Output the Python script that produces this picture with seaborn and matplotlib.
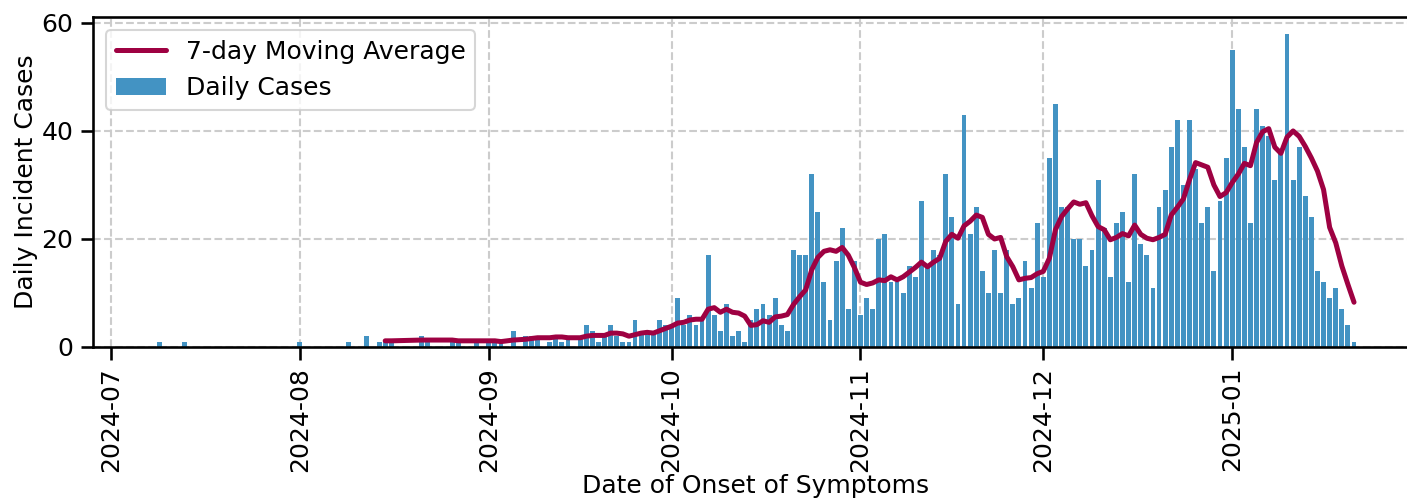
import seaborn as sns
import matplotlib.pyplot as plt
import matplotlib.dates as mdates
import pandas as pd

# Dates that have at least one case, and the count on each of them
early_dates = ["2024-07-09", "2024-07-13", "2024-08-01", "2024-08-09", "2024-08-12",
               "2024-08-14", "2024-08-15", "2024-08-16", "2024-08-21", "2024-08-22",
               "2024-08-26", "2024-08-27", "2024-08-30", "2024-09-01", "2024-09-02",
               "2024-09-03", "2024-09-05", "2024-09-07", "2024-09-08", "2024-09-09",
               "2024-09-11", "2024-09-12", "2024-09-13", "2024-09-14", "2024-09-16",
               "2024-09-17", "2024-09-18", "2024-09-19", "2024-09-20", "2024-09-21",
               "2024-09-22", "2024-09-23", "2024-09-24"]
early_cases = [1, 1, 1, 1, 2, 1, 1, 1, 2, 1, 1, 1, 1, 1, 1, 1, 3, 2, 2, 2,
               1, 2, 1, 2, 2, 4, 3, 1, 2, 4, 2, 1, 1]

# From 2024-09-25 onwards there is a bar every day
daily_start = "2024-09-25"
daily_cases = [5, 3, 3, 3, 5, 4,                                   # Sep 25-30
               4, 9, 4, 6, 4, 5, 17, 6, 3, 8, 2, 3, 1, 5, 7, 8,   # Oct 1-16
               6, 9, 4, 3, 18, 17, 17, 32, 25, 12, 5, 16, 22, 7, 16,  # Oct 17-31
               6, 9, 7, 20, 21, 12, 12, 10, 15, 13, 27, 15, 18, 17, 32,  # Nov 1-15
               24, 8, 43, 21, 26, 14, 10, 18, 10, 18, 8, 9, 16, 11, 23,  # Nov 16-30
               13, 35, 45, 26, 26, 20, 20, 15, 18, 31, 22, 13, 23, 25, 12, 32,  # Dec 1-16
               19, 17, 11, 26, 29, 37, 42, 30, 42, 33, 23, 26, 14, 27, 35,  # Dec 17-31
               55, 44, 37, 23, 44, 41, 39, 31, 36, 58, 31, 37, 28, 24,  # Jan 1-14
               14, 12, 9, 11, 7, 4, 1]                               # Jan 15-21

dates = pd.to_datetime(early_dates).append(
    pd.date_range(daily_start, periods=len(daily_cases), freq="D"))
df = pd.DataFrame({"date": dates, "cases": early_cases + daily_cases})
df["ma7"] = df["cases"].rolling(7).mean()

sns.set_theme(style="ticks")
plt.rcParams["font.family"] = ["DejaVu Sans"]
for key in ["text.color", "axes.labelcolor", "xtick.color", "ytick.color", "axes.edgecolor"]:
    plt.rcParams[key] = "black"

fig = plt.figure(figsize=(1407 / 150, 501 / 150), dpi=150)
ax = fig.add_axes([93 / 1407, 154 / 501, 1325 / 1407, 330 / 501])

ax.bar(df["date"], df["cases"], width=0.8, color="#4393c3", edgecolor="none",
       linewidth=0, label="Daily Cases", zorder=2)
sns.lineplot(data=df.dropna(), x="date", y="ma7", color="#9e0142", linewidth=2.4,
             label="7-day Moving Average", ax=ax, zorder=3)

ax.set_xlim(pd.Timestamp("2024-06-28 01:00"), pd.Timestamp("2025-01-31 12:00"))
ax.set_ylim(0, 61.1)
ax.set_yticks([0, 20, 40, 60])
ax.xaxis.set_major_locator(mdates.MonthLocator())
ax.xaxis.set_major_formatter(mdates.DateFormatter("%Y-%m"))
ax.tick_params(axis="x", labelrotation=90, labelsize=12)
ax.tick_params(axis="y", labelsize=12)
ax.grid(True, linestyle="--", color="#cccccc", linewidth=1, zorder=0)
ax.set_axisbelow(True)
ax.set_xlabel("Date of Onset of Symptoms", fontsize=12, labelpad=1)
ax.set_ylabel("Daily Incident Cases", fontsize=12, labelpad=1.6)
ax.legend(loc="upper left", fontsize=12, frameon=True)

fig.savefig("out.png", dpi=150)
